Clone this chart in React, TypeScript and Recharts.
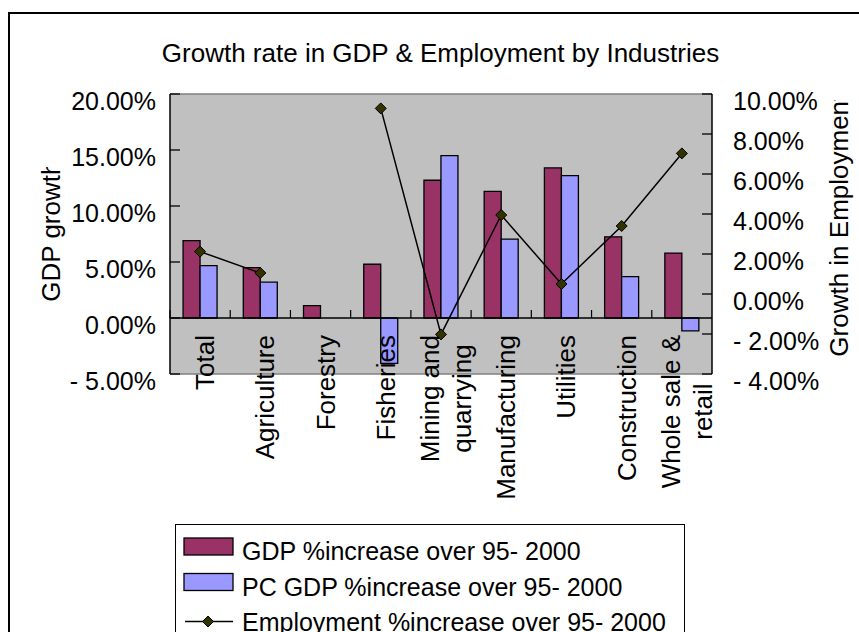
import { ComposedChart, Bar, Line, XAxis, YAxis, ReferenceLine, CartesianGrid } from 'recharts';

const categories = [
  'Total',
  'Agriculture',
  'Forestry',
  'Fisheries',
  'Mining and\nquarrying',
  'Manufacturing',
  'Utilities',
  'Construction',
  'Whole sale &\nretail',
];
const gdpIncrease = [0.069, 0.045, 0.011, 0.048, 0.123, 0.113, 0.134, 0.0725, 0.058];
const pcGdpIncrease = [0.0467, 0.032, null, -0.0405, 0.145, 0.0705, 0.1272, 0.037, -0.0115];
const employmentIncrease = [0.0212, 0.0105, null, 0.0928, -0.0202, 0.0395, 0.005, 0.034, 0.0703];

const gdpTicks = [-0.05, 0, 0.05, 0.1, 0.15, 0.2];
const employmentTicks = [-0.04, -0.02, 0, 0.02, 0.04, 0.06, 0.08, 0.1];

const gdpName = 'GDP %increase over 95- 2000';
const pcGdpName = 'PC GDP %increase over 95- 2000';
const employmentName = 'Employment %increase over 95- 2000';

const data = categories.map((name, i) => ({
  name,
  gdp: gdpIncrease[i],
  pcGdp: pcGdpIncrease[i],
  employment: employmentIncrease[i],
}));

// layout
const W = 859;
const H = 632;
const PLOT = { left: 170, top: 94, right: 712, bottom: 374 };
const AXIS_W = 100;
const X_AXIS_H = 30;
const FONT = '"Liberation Sans", Arial, sans-serif';
const GDP_COLOR = '#993366';
const PC_COLOR = '#9999ff';
const MARKER = '#333300';

const gdpMin = gdpTicks[0];
const gdpMax = gdpTicks[gdpTicks.length - 1];
const zeroY = PLOT.top + ((gdpMax - 0) / (gdpMax - gdpMin)) * (PLOT.bottom - PLOT.top);
const bandW = (PLOT.right - PLOT.left) / categories.length;

const pct = (v: number) => (v < 0 ? '- ' : '') + (Math.abs(v) * 100).toFixed(2) + '%';

let ctx: CanvasRenderingContext2D | null = null;
const measure = (s: string, size: number) => {
  if (!ctx) ctx = document.createElement('canvas').getContext('2d');
  if (!ctx) return s.length * size * 0.5;
  ctx.font = `${size}px "Liberation Sans", Arial`;
  return ctx.measureText(s).width;
};

const LeftTick = (props: any) => {
  const { x, y, payload } = props;
  return (
    <g>
      <line x1={x + 14} x2={x + 24} y1={y} y2={y} stroke="#000" strokeWidth={1.3} />
      <text x={x} y={y + 16} textAnchor="end" fontSize={25} fontFamily={FONT} fill="#000">
        {pct(payload.value)}
      </text>
    </g>
  );
};

const RightTick = (props: any) => {
  const { x, y, payload } = props;
  return (
    <g>
      <line x1={x - 21} x2={x - 31} y1={y} y2={y} stroke="#000" strokeWidth={1.3} />
      <text x={x} y={y + 16} textAnchor="start" fontSize={25} fontFamily={FONT} fill="#000">
        {pct(payload.value)}
      </text>
    </g>
  );
};

const CategoryTick = (props: any) => {
  const { x, payload } = props;
  const lines = String(payload.value).split('\n');
  const maxW = Math.max(...lines.map((l) => measure(l, 26)));
  const cy = 335 + maxW / 2;
  const bx = x - bandW / 2;
  return (
    <g>
      <line x1={bx} x2={bx} y1={zeroY - 8} y2={zeroY} stroke="#000" strokeWidth={1.2} />
      {lines.map((l, i) => {
        const lx = x + 14 + (i - (lines.length - 1) / 2) * 32.5;
        return (
          <text
            key={i}
            x={lx}
            y={cy}
            transform={`rotate(-90, ${lx}, ${cy})`}
            textAnchor="middle"
            fontSize={26}
            fontFamily={FONT}
            fill="#000"
          >
            {l}
          </text>
        );
      })}
    </g>
  );
};

const Diamond = (props: any) => {
  const { cx, cy, payload } = props;
  if (cx == null || cy == null || payload?.employment == null) return null;
  const r = 5.5;
  return (
    <path
      d={`M${cx},${cy - r} L${cx + r},${cy} L${cx},${cy + r} L${cx - r},${cy} Z`}
      fill={MARKER}
      stroke="#000"
      strokeWidth={1}
    />
  );
};

const Overlay = () => {
  const rowY = [538, 573.5, 609];
  return (
    <svg width={W} height={H} style={{ position: 'absolute', left: 0, top: 0, pointerEvents: 'none' }}>
      <defs>
        <clipPath id="leftTitleClip">
          <rect x={0} y={167} width={120} height={300} />
        </clipPath>
        <clipPath id="rightTitleClip">
          <rect x={800} y={100} width={59} height={300} />
        </clipPath>
      </defs>
      <line x1={9} y1={13} x2={W} y2={13} stroke="#000" strokeWidth={2} />
      <line x1={9} y1={12} x2={9} y2={H} stroke="#000" strokeWidth={2} />

      <text x={440.5} y={61.5} textAnchor="middle" fontSize={26} fontFamily={FONT} fill="#000">
        Growth rate in GDP &amp; Employment by Industries
      </text>

      <g clipPath="url(#leftTitleClip)">
        <text x={60.5} y={301.7} transform="rotate(-90, 60.5, 301.7)" fontSize={26} fontFamily={FONT} fill="#000">
          GDP growth
        </text>
      </g>
      <g clipPath="url(#rightTitleClip)">
        <text x={848} y={356.7} transform="rotate(-90, 848, 356.7)" fontSize={26} fontFamily={FONT} fill="#000">
          Growth in Employment
        </text>
      </g>

      <rect x={175.5} y={524.5} width={509} height={200} fill="#fff" stroke="#000" strokeWidth={1} />
      <rect x={184} y={rowY[0]} width={49} height={17} fill={GDP_COLOR} stroke="#000" strokeWidth={1.3} />
      <text x={242} y={rowY[0] + 22} fontSize={25} fontFamily={FONT} fill="#000">{gdpName}</text>
      <rect x={184} y={rowY[1]} width={49} height={17} fill={PC_COLOR} stroke="#000" strokeWidth={1.3} />
      <text x={242} y={rowY[1] + 22.5} fontSize={25} fontFamily={FONT} fill="#000">{pcGdpName}</text>
      <line x1={185} x2={233} y1={rowY[2] + 12.5} y2={rowY[2] + 12.5} stroke="#000" strokeWidth={1.5} />
      <path
        d={`M208,${rowY[2] + 7} L213.5,${rowY[2] + 12.5} L208,${rowY[2] + 18} L202.5,${rowY[2] + 12.5} Z`}
        fill={MARKER}
        stroke="#000"
      />
      <text x={242} y={rowY[2] + 22} fontSize={25} fontFamily={FONT} fill="#000">{employmentName}</text>
    </svg>
  );
};

export default function App() {
  return (
    <div style={{ position: 'fixed', left: 0, top: 0, width: W, height: H, overflow: 'hidden', background: '#fff' }}>
      <div style={{ position: 'absolute', left: 0, top: 0 }}>
        <ComposedChart
          width={W}
          height={H}
          data={data}
          margin={{
            top: PLOT.top,
            left: PLOT.left - AXIS_W,
            right: W - PLOT.right - AXIS_W,
            bottom: H - PLOT.bottom - X_AXIS_H,
          }}
          barCategoryGap="21.7%"
          barGap={0}
        >
          <CartesianGrid yAxisId="left" fill="#c0c0c0" stroke="none" horizontal={false} vertical={false} />
          <ReferenceLine yAxisId="left" y={gdpMax} stroke="#808080" strokeWidth={1.5} />
          <ReferenceLine yAxisId="left" y={gdpMin} stroke="#808080" strokeWidth={1.5} />
          <XAxis
            dataKey="name"
            interval={0}
            height={X_AXIS_H}
            axisLine={false}
            tickLine={false}
            tick={<CategoryTick />}
          />
          <YAxis
            yAxisId="left"
            orientation="left"
            width={AXIS_W}
            domain={[gdpMin, gdpMax]}
            ticks={gdpTicks}
            interval={0}
            tickSize={0}
            tickMargin={14}
            tickLine={false}
            axisLine={{ stroke: '#000', strokeWidth: 1.5 }}
            tick={<LeftTick />}
          />
          <YAxis
            yAxisId="right"
            orientation="right"
            width={AXIS_W}
            domain={[employmentTicks[0], employmentTicks[employmentTicks.length - 1]]}
            ticks={employmentTicks}
            interval={0}
            tickSize={0}
            tickMargin={21}
            tickLine={false}
            axisLine={{ stroke: '#000', strokeWidth: 1.5 }}
            tick={<RightTick />}
          />
          <Bar yAxisId="left" dataKey="gdp" name={gdpName} fill={GDP_COLOR} stroke="#000" strokeWidth={1.3} isAnimationActive={false} />
          <Bar yAxisId="left" dataKey="pcGdp" name={pcGdpName} fill={PC_COLOR} stroke="#000" strokeWidth={1.3} isAnimationActive={false} />
          <ReferenceLine yAxisId="left" y={0} stroke="#000" strokeWidth={1.5} />
          <Line
            yAxisId="right"
            dataKey="employment"
            name={employmentName}
            stroke="#000"
            strokeWidth={1.5}
            dot={<Diamond />}
            activeDot={false}
            connectNulls={false}
            isAnimationActive={false}
          />
        </ComposedChart>
      </div>
      <Overlay />
    </div>
  );
}
